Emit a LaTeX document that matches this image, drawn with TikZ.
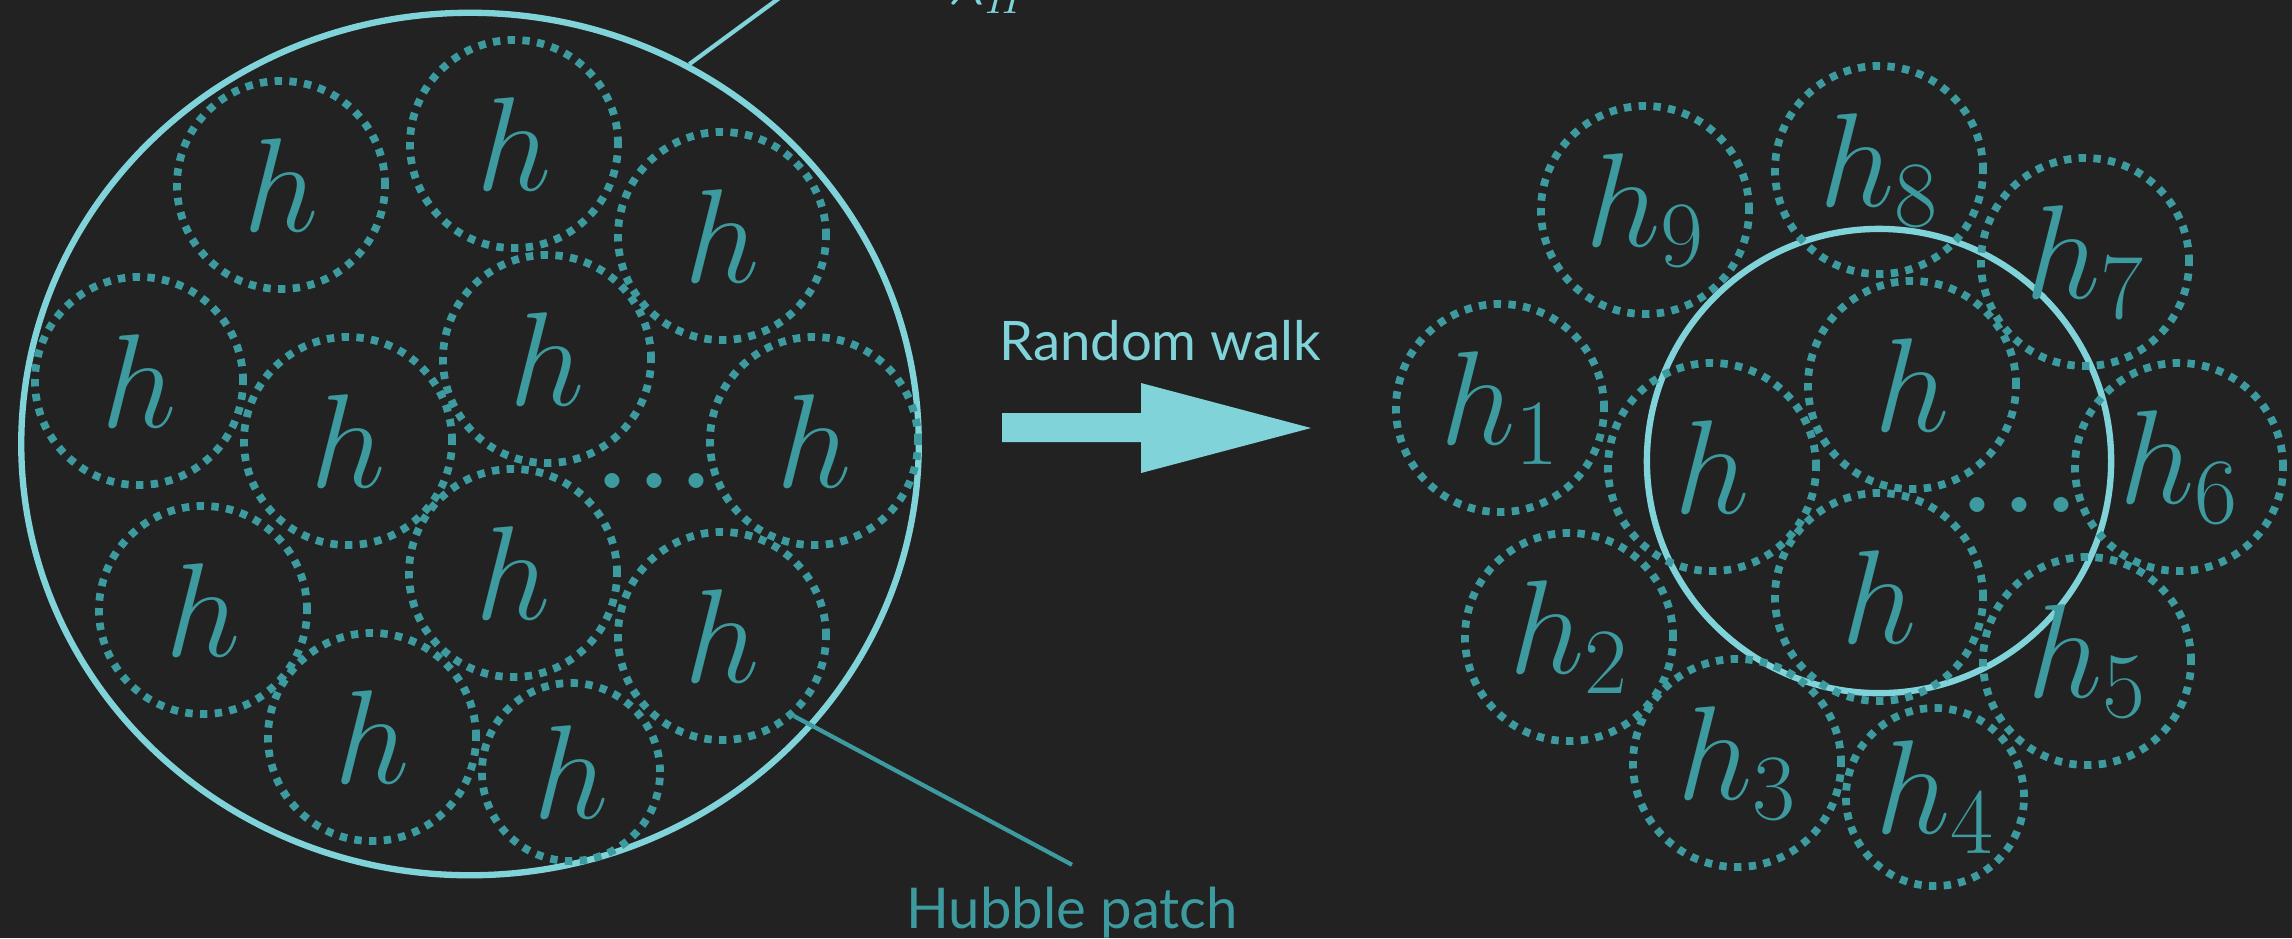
\RequirePackage{fix-cm}
\documentclass[tikz,border=0pt]{standalone}
\usepackage{fontspec}
\newfontfamily\capfont{Lato}
\usetikzlibrary{shapes.geometric}
\definecolor{bgdark}{HTML}{222222}
\definecolor{hubcyan}{HTML}{80D3D9}
\definecolor{hubteal}{HTML}{3D9A9E}
\newcommand{\hfont}{\fontsize{38}{40}\selectfont}
\tikzset{
  patch/.style={ellipse, draw=hubcyan, line width=1.8pt, minimum width=8.97cm, minimum height=8.62cm, inner sep=0pt},
  horizon/.style={circle, draw=hubcyan, line width=1.8pt, minimum size=4.64cm, inner sep=0pt},
  hcirc/.style={circle, draw=hubteal, line width=2.2pt, dash pattern=on 2.1pt off 2.1pt, minimum size=2.08cm, inner sep=0pt, text=hubteal, font=\hfont},
  hsmall/.style={hcirc, minimum size=1.78cm},
  hdots/.style={anchor=base, inner sep=0pt, text=hubteal, font=\fontsize{44}{46}\selectfont},
  caption/.style={font=\capfont\fontsize{16}{18}\selectfont, anchor=base},
  leader/.style={line width=1.2pt}
}
\begin{document}
\begin{tikzpicture}[x=0.01cm, y=-0.01cm]
  \useasboundingbox (0,0) rectangle (2292,938);
  \fill[bgdark] (0,0) rectangle (2292,938);
  \clip (0,0) rectangle (2292,938);

  % Left: the Hubble patch
  \node[patch] (patch) at (470,444) {};
  \node[hcirc] (l1) at (281,185) {$h$};
  \node[hcirc] (l2) at (514,144) {$h$};
  \node[hcirc] (l3) at (722,236) {$h$};
  \node[hcirc] (l4) at (139,381) {$h$};
  \node[hcirc] (l5) at (348,441) {$h$};
  \node[hcirc] (l6) at (547,359) {$h$};
  \node[hcirc] (l7) at (814,441) {$h$};
  \node[hcirc] (l8) at (203,610) {$h$};
  \node[hcirc] (l9) at (513,573) {$h$};
  \node[hcirc] (l10) at (722,636) {$h$};
  \node[hcirc] (l11) at (372,737) {$h$};
  \node[hsmall] (l12) at (571,772) {$h$};
  \node[hdots] (ldots) at (655,488) {$...$};

  % Labels
  \node[anchor=base west, inner sep=0pt, text=hubcyan, font=\fontsize{18}{20}\selectfont] (lambda) at (948,4) {$\lambda_H$};
  \coordinate (lamend) at (880,-76);
  \draw[leader, hubcyan] (patch.60) -- (lamend);
  \node[caption, text=hubteal, inner sep=6pt] (hubble) at (1072,928) {Hubble patch};
  \draw[leader, hubteal] (l10.-48) -- (hubble.north);

  % Arrow
  \node[caption, text=hubcyan, font=\capfont\fontsize{15.5}{18}\selectfont] (walk) at (1160,360) {Random walk};
  \fill[hubcyan] (1002,413) -- (1141,413) -- (1141,383) -- (1311,428)
    -- (1141,473) -- (1141,442) -- (1002,442) -- cycle;

  % Right: after the walk
  \node[horizon] (patch2) at (1879,461) {};
  \node[hcirc] (r1) at (1912,385) {$h$};
  \node[hcirc] (r2) at (1712,467) {$h$};
  \node[hcirc] (r3) at (1879,597) {$h$};
  \node[hdots] (rdots) at (2020,512) {$...$};

  \node[hcirc] (h1) at (1500,408) {$h_1$};
  \node[hcirc] (h2) at (1569,637) {$h_2$};
  \node[hcirc] (h3) at (1737,763) {$h_3$};
  \node[hsmall] (h4) at (1935,797) {$h_4$};
  \node[hcirc] (h5) at (2087,661) {$h_5$};
  \node[hcirc] (h6) at (2179,467) {$h_6$};
  \node[hcirc] (h7) at (2085,262) {$h_7$};
  \node[hcirc] (h8) at (1879,170) {$h_8$};
  \node[hcirc] (h9) at (1645,210) {$h_9$};
\end{tikzpicture}
\end{document}
